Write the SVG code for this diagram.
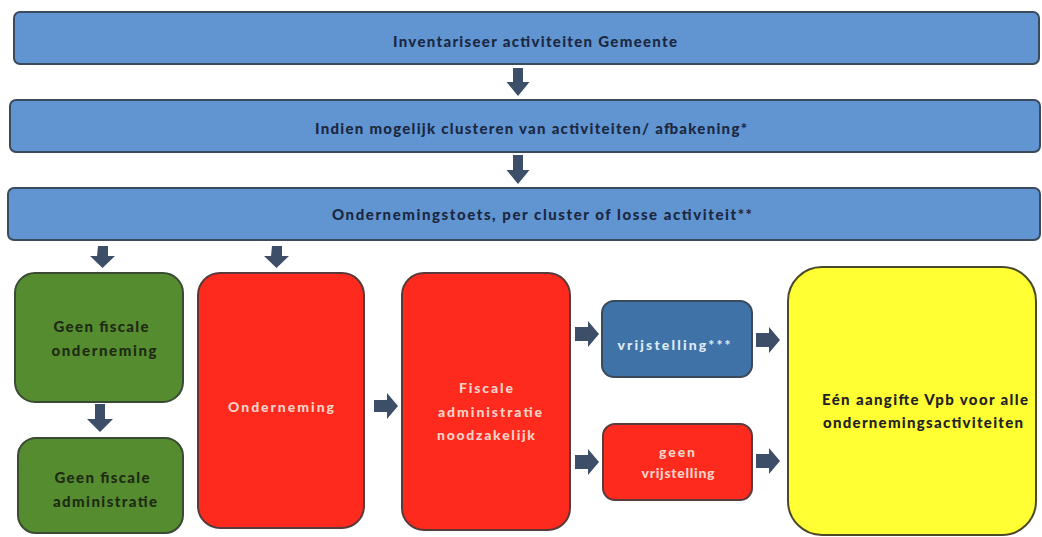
<svg xmlns="http://www.w3.org/2000/svg" width="1042" height="537" viewBox="0 0 1042 537">
<style>
.banner{fill:#6095d2;stroke:#3b4a5c;stroke-width:2}
.green{fill:#558c2f;stroke:#3a4a34;stroke-width:2}
.red{fill:#ff2a1e;stroke:#5a3a3a;stroke-width:2}
.blue{fill:#3f72a6;stroke:#3a4a5a;stroke-width:2}
.yellow{fill:#ffff33;stroke:#4a4a2a;stroke-width:2}
.arrow{fill:#3d4f68}
text{font-family:Lato,"Liberation Sans",Arial,sans-serif;font-weight:900;text-anchor:middle}
.bt{font-size:15px;fill:#1c2740}
.gt{font-size:15px;fill:#1e2a14}
.rt{font-size:14px;fill:#f9d2c8}
.vt{font-size:14px;fill:#dfeaf6}
.yt{font-size:15px;fill:#222222}
</style>
<rect width="1042" height="537" fill="#ffffff"/>
<g id="n1"><rect class="banner" x="14" y="12" width="1025" height="52" rx="6"/><text class="bt" x="535" y="47" textLength="284" lengthAdjust="spacing">Inventariseer activiteiten Gemeente</text></g>
<g id="n2"><rect class="banner" x="10" y="100" width="1030" height="52" rx="6"/><text class="bt" x="531" y="134" textLength="432" lengthAdjust="spacing">Indien mogelijk clusteren van activiteiten/ afbakening*</text></g>
<g id="n3"><rect class="banner" x="8" y="188" width="1032" height="52" rx="6"/><text class="bt" x="542" y="220" textLength="420" lengthAdjust="spacing">Ondernemingstoets, per cluster of losse activiteit**</text></g>
<g id="n4"><rect class="green" x="15" y="273" width="168" height="129" rx="20"/><text class="gt" x="101" y="332" textLength="95" lengthAdjust="spacing">Geen fiscale</text><text class="gt" x="104" y="356" textLength="105" lengthAdjust="spacing">onderneming</text></g>
<g id="n5"><rect class="green" x="18" y="438" width="165" height="95" rx="18"/><text class="gt" x="102" y="483" textLength="95" lengthAdjust="spacing">Geen fiscale</text><text class="gt" x="105" y="507" textLength="104" lengthAdjust="spacing">administratie</text></g>
<g id="n6"><rect class="red" x="198" y="273" width="166" height="255" rx="22"/><text class="rt" x="281" y="412" textLength="106" lengthAdjust="spacing">Onderneming</text></g>
<g id="n7"><rect class="red" x="402" y="273" width="168" height="257" rx="22"/><text class="rt" x="486" y="393" textLength="54" lengthAdjust="spacing">Fiscale</text><text class="rt" x="490" y="417" textLength="104" lengthAdjust="spacing">administratie</text><text class="rt" x="486" y="440" textLength="98" lengthAdjust="spacing">noodzakelijk</text></g>
<g id="n8"><rect class="blue" x="602" y="301" width="150" height="76" rx="12"/><text class="vt" x="674" y="350" textLength="113" lengthAdjust="spacing">vrijstelling***</text></g>
<g id="n9"><rect class="red" x="603" y="424" width="149" height="76" rx="12"/><text class="rt" x="677" y="457" textLength="36" lengthAdjust="spacing">geen</text><text class="rt" x="678" y="478" textLength="73" lengthAdjust="spacing">vrijstelling</text></g>
<g id="n10"><rect class="yellow" x="788" y="267" width="248" height="268" rx="34"/><text class="yt" x="925" y="405" textLength="206" lengthAdjust="spacing">Eén aangifte Vpb voor alle</text><text class="yt" x="923" y="428" textLength="200" lengthAdjust="spacing">ondernemingsactiviteiten</text></g>
<g id="connectors">
<path class="arrow" d="M513,68 h10 v14 h6.5 l-11.5,14 l-11.5,-14 h6.5 z"/>
<path class="arrow" d="M513,155 h10 v15 h6.5 l-11.5,14 l-11.5,-14 h6.5 z"/>
<path class="arrow" d="M98,246 h10 v10 h7 l-12.5,12 l-12.5,-12 h7 z"/>
<path class="arrow" d="M272,246 h10 v10 h7 l-12.5,12 l-12.5,-12 h7 z"/>
<path class="arrow" d="M95,404 h10 v15 h8 l-13,13 l-13,-13 h8 z"/>
<path class="arrow" d="M374,400 h13 v-7 l11,13 l-11,13 v-7 h-13 z"/>
<path class="arrow" d="M575,327 h13 v-6 l11,13 l-11,13 v-6 h-13 z"/>
<path class="arrow" d="M575,455 h13 v-6 l11,13 l-11,13 v-6 h-13 z"/>
<path class="arrow" d="M756,333 h13 v-6 l11,13 l-11,13 v-6 h-13 z"/>
<path class="arrow" d="M756,454 h13 v-6 l11,13 l-11,13 v-6 h-13 z"/>
</g>
</svg>
